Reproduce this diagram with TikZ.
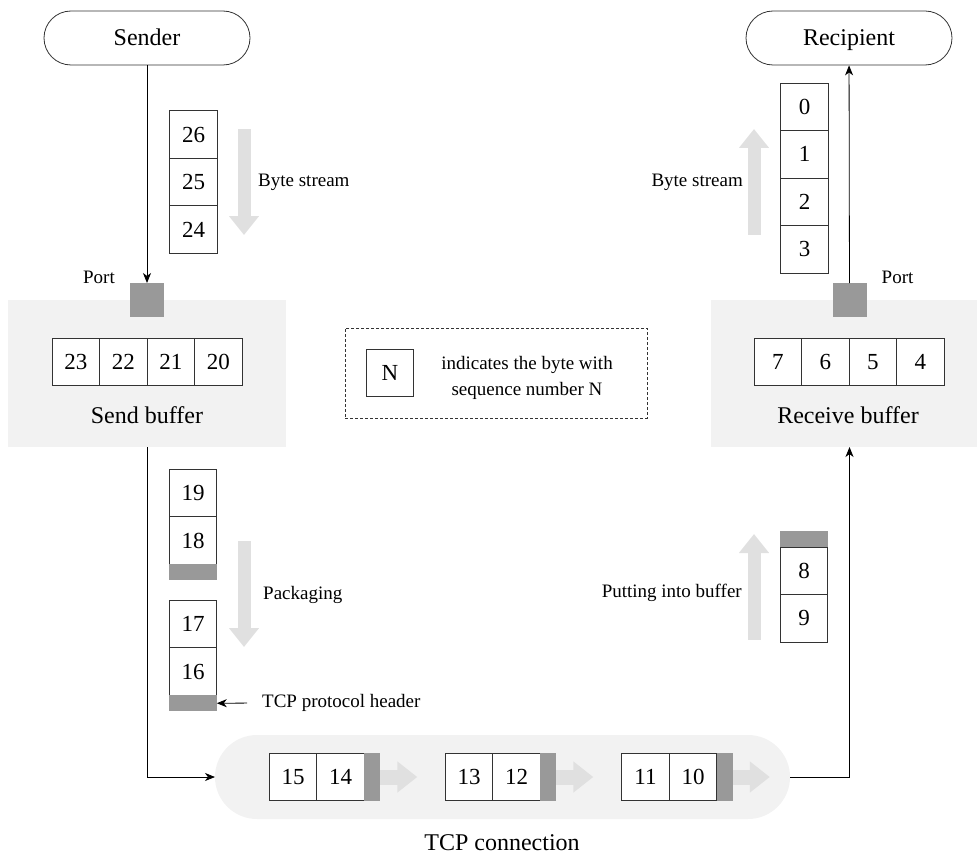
\documentclass[tikz,border=0pt]{standalone}
\usepackage{fontspec}
\setmainfont{Liberation Serif}
\usetikzlibrary{arrows.meta,positioning}
\definecolor{portgray}{HTML}{999999}
\definecolor{bggray}{HTML}{F2F2F2}
\definecolor{flowgray}{HTML}{E0E0E0}
\definecolor{linegray}{HTML}{333333}

\begin{document}
\begin{tikzpicture}[x=1pt,y=-1pt,node distance=0pt,
  cell/.style={rectangle,draw=linegray,line width=0.9pt,fill=white,outer sep=0pt,inner sep=0pt,
               minimum width=47.5pt,minimum height=47.5pt,font=\fontsize{23}{26}\selectfont},
  hdr/.style={rectangle,fill=portgray,outer sep=0pt,inner sep=0pt,minimum width=47.5pt,minimum height=16pt},
  vhdr/.style={hdr,minimum width=16pt,minimum height=47.5pt},
  port/.style={rectangle,fill=portgray,minimum size=34pt,inner sep=0pt,outer sep=0pt},
  buffer/.style={rectangle,fill=bggray,inner sep=0pt,outer sep=0pt,minimum height=147pt},
  host/.style={rectangle,draw=linegray,line width=0.8pt,rounded corners=27pt,minimum width=206pt,
               minimum height=54pt,text height=17pt,text depth=1pt,font=\fontsize{24}{28}\selectfont},
  title/.style={font=\fontsize{24}{28}\selectfont},
  note/.style={font=\fontsize{19}{22}\selectfont,inner sep=2pt},
  arrow/.style={-{Stealth[length=10pt,width=8pt,inset=3pt]},line width=0.8pt},
  flow/.style={draw=flowgray,line width=13pt,-{Triangle[length=19pt,width=29pt]}},
  pflow/.style={draw=flowgray,line width=15pt,-{Triangle[length=20pt,width=30pt]}}]

\useasboundingbox (0,0) rectangle (977,856);

% hosts
\node[host] (sender) at (147,38) {Sender};
\node[host] (recipient) at (849,38) {Recipient};

% send buffer
\node[buffer,minimum width=278pt] (sbuf) at (147,373.5) {};
\node[port] (sport) at (147,300) {};
\node[note,anchor=base east] (sportlbl) at ([xshift=-13pt]sport.north west) {Port};
\node[cell] (c23) at (75.75,362) {23};
\node[cell,right=of c23] (c22) {22};
\node[cell,right=of c22] (c21) {21};
\node[cell,right=of c21] (c20) {20};
\node[title] (sbuflbl) at (147,415) {Send buffer};

% byte stream in
\node[cell] (c26) at (193.5,134.5) {26};
\node[cell,below=of c26] (c25) {25};
\node[cell,below=of c25] (c24) {24};
\draw[flow] (244,129) -- (244,235);
\node[note,anchor=west] (sbytes) at (256,182) {Byte stream};
\draw[arrow] (sender) -- (sport);

% packaging
\node[cell] (c19) at (193,493) {19};
\node[cell,below=of c19] (c18) {18};
\node[hdr,below=of c18] (h18) {};
\node[cell] (c17) at (193,624) {17};
\node[cell,below=of c17] (c16) {16};
\node[hdr,below=of c16] (h16) {};
\draw[flow] (244,541) -- (244,647);
\node[note,anchor=west] (packlbl) at (261,595) {Packaging};
\node[note,anchor=west] (hdrlbl) at (260,703) {TCP protocol header};
\draw[arrow,shorten <=13pt] (hdrlbl.west) -- (h16.east);

% tcp connection
\node[buffer,minimum width=575pt,minimum height=84pt,rounded corners=42pt] (tcp) at (502.5,777) {};
\draw[arrow] (sbuf.south) |- (tcp.west);
\node[cell] (c15) at (293,777) {15};
\node[cell,right=of c15] (c14) {14};
\node[vhdr,right=of c14] (h14) {};
\draw[pflow] (h14.east) -- ++(37,0);
\node[cell] (c13) at (469,777) {13};
\node[cell,right=of c13] (c12) {12};
\node[vhdr,right=of c12] (h12) {};
\draw[pflow] (h12.east) -- ++(37,0);
\node[cell] (c11) at (645.5,777) {11};
\node[cell,right=of c11] (c10) {10};
\node[vhdr,right=of c10] (h10) {};
\draw[pflow] (h10.east) -- ++(37,0);
\node[title] (tcplbl) at (502,843) {TCP connection};

% receive buffer
\node[buffer,minimum width=266pt] (rbuf) at (844,373.5) {};
\node[port] (rport) at (849.5,300) {};
\node[note,anchor=base west] (rportlbl) at ([xshift=13pt]rport.north east) {Port};
\node[cell] (c7) at (777.75,362) {7};
\node[cell,right=of c7] (c6) {6};
\node[cell,right=of c6] (c5) {5};
\node[cell,right=of c5] (c4) {4};
\node[title] (rbuflbl) at (848,415) {Receive buffer};

% byte stream out
\node[cell] (c0) at (804.5,106.75) {0};
\node[cell,below=of c0] (c1) {1};
\node[cell,below=of c1] (c2) {2};
\node[cell,below=of c2] (c3) {3};
\draw[flow] (754,235) -- (754,129);
\node[note,anchor=east] (rbytes) at (745,182) {Byte stream};
\draw[arrow] (rport) -- (recipient);

% putting into buffer
\node[hdr] (h8) at (804,539) {};
\node[cell,below=of h8] (c8) {8};
\node[cell,below=of c8] (c9) {9};
\draw[flow] (754,640) -- (754,534);
\node[note,anchor=east] (putlbl) at (744,593) {Putting into buffer};
\draw[arrow] (tcp.east) -| (rport |- rbuf.south);

% legend
\node[rectangle,draw=linegray,line width=0.6pt,dash pattern=on 3pt off 2pt,
      minimum width=302pt,minimum height=90pt] (legend) at (496,373) {};
\node[cell] (ncell) at (390,373) {N};
\node[note,align=center,font=\fontsize{19}{26}\selectfont] (nlbl) at (527,378)
  {indicates the byte with\\sequence number N};
\end{tikzpicture}
\end{document}
